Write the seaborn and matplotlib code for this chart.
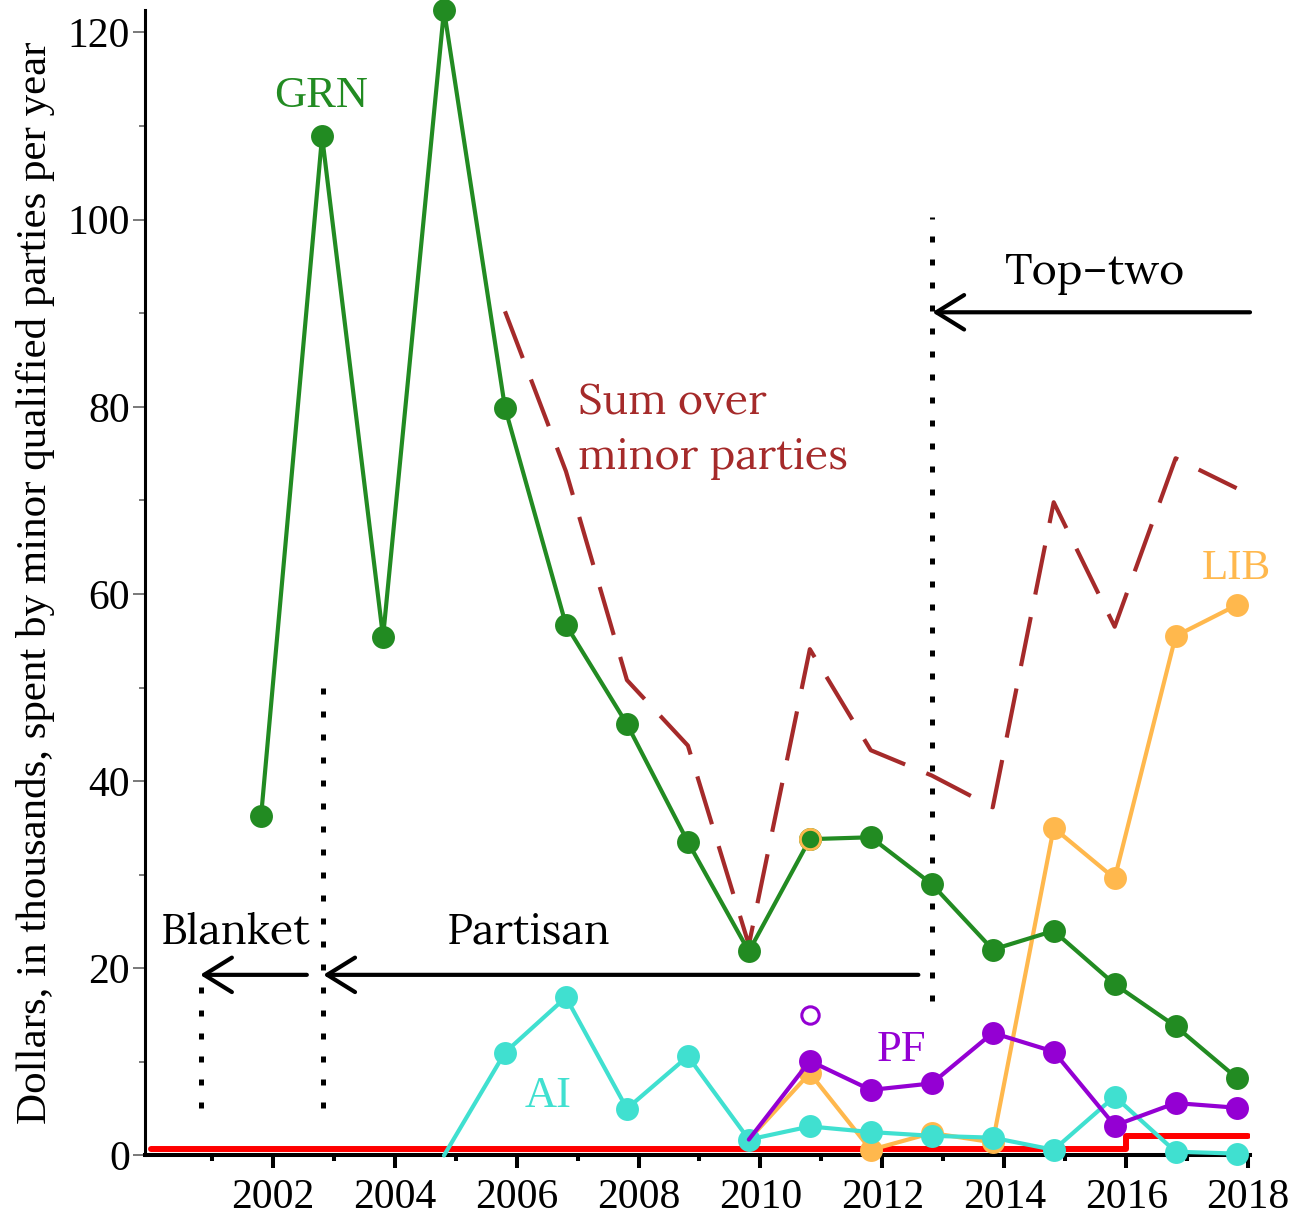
import matplotlib
matplotlib.use("Agg")
import matplotlib.pyplot as plt
import seaborn as sns

# election dates (fractional years) and spending, thousands of dollars
grn_x = [2001.81, 2002.81, 2003.81, 2004.81, 2005.81, 2006.81, 2007.81, 2008.81, 2009.81,
         2010.81, 2011.81, 2012.81, 2013.81, 2014.81, 2015.81, 2016.81, 2017.81]
grn_y = [36.3, 108.9, 55.4, 122.4, 79.9, 56.7, 46.1, 33.5, 21.8,
         33.8, 34.0, 29.0, 22.0, 24.0, 18.3, 13.8, 8.3]

sum_x = [2005.81, 2006.81, 2007.81, 2008.81, 2009.81, 2010.81, 2011.81,
         2012.81, 2013.81, 2014.81, 2015.81, 2016.81, 2017.81]
sum_y = [90.2, 73.1, 50.8, 43.8, 22.5, 54.1, 43.3, 40.6, 37.2, 69.8, 56.5, 74.5, 71.3]

ai_x = [2004.81, 2005.81, 2006.81, 2007.81, 2008.81, 2009.81, 2010.81,
        2011.81, 2012.81, 2013.81, 2014.81, 2015.81, 2016.81, 2017.81]
ai_y = [0.0, 11.0, 16.9, 5.0, 10.6, 1.7, 3.1, 2.5, 2.1, 1.9, 0.6, 6.3, 0.4, 0.2]

lib_x = [2009.81, 2010.81, 2011.81, 2012.81, 2013.81, 2014.81, 2015.81, 2016.81, 2017.81]
lib_y = [1.7, 8.8, 0.6, 2.4, 1.4, 35.0, 29.6, 55.5, 58.8]

pf_x = [2009.81, 2010.81, 2011.81, 2012.81, 2013.81, 2014.81, 2015.81, 2016.81, 2017.81]
pf_y = [1.7, 10.1, 7.0, 7.7, 13.1, 11.1, 3.2, 5.6, 5.1]

# extra markers at 2010
lib_extra_x, lib_extra_y = 2010.81, 33.8
pf_open_x, pf_open_y = 2010.81, 15.0

# red step line
red_x = [2000.0, 2016.0, 2018.0]
red_y = [0.7, 2.1, 2.1]

GREEN = "#228B22"
BROWN = "#A52A2A"
TURQ = "#40E0D0"
ORANGE = "#FFB84D"
PURPLE = "#9400D3"

sns.set_theme(style="ticks")
plt.rcParams["font.family"] = ["Liberation Serif", "DejaVu Serif"]
plt.rcParams["text.color"] = "black"
plt.rcParams["axes.labelcolor"] = "black"
plt.rcParams["xtick.color"] = "black"
plt.rcParams["ytick.color"] = "black"

fig = plt.figure(figsize=(12.99, 12.2), dpi=100)
ax = fig.add_axes([0.1116, 0.0529, 0.8507, 0.9389])

line_kw = dict(linewidth=3, marker="o", markersize=16.5, markeredgewidth=0, ax=ax, clip_on=False)

sns.lineplot(x=red_x, y=red_y, color="red", linewidth=4.3, drawstyle="steps-post", ax=ax, zorder=2)
sns.lineplot(x=sum_x, y=sum_y, color=BROWN, linewidth=3, linestyle=(0, (12, 5.5)), ax=ax, zorder=3)
sns.lineplot(x=lib_x, y=lib_y, color=ORANGE, markevery=list(range(1, len(lib_x))), zorder=4, **line_kw)
sns.lineplot(x=ai_x, y=ai_y, color=TURQ, markevery=list(range(1, len(ai_x))), zorder=5, **line_kw)
sns.lineplot(x=pf_x, y=pf_y, color=PURPLE, markevery=list(range(1, len(pf_x))), zorder=6, **line_kw)
sns.lineplot(x=grn_x, y=grn_y, color=GREEN, zorder=7, **line_kw)

# LIB marker hidden under GRN in 2010
ax.plot([lib_extra_x], [lib_extra_y], "o", color=GREEN, markersize=14.5,
        markeredgecolor=ORANGE, markeredgewidth=2, zorder=8)
ax.plot([pf_open_x], [pf_open_y], "o", markerfacecolor="none", markeredgecolor=PURPLE,
        markersize=12.5, markeredgewidth=2.2, zorder=8)

# primary system boundaries
dot_kw = dict(color="black", linewidth=3.6, linestyle=(0, (1.2, 3.4)), dash_capstyle="butt", zorder=1)
ax.plot([2000.83, 2000.83], [5.1, 18.0], **dot_kw)
ax.plot([2002.83, 2002.83], [5.1, 50.5], **dot_kw)
ax.plot([2012.81, 2012.81], [16.5, 100.3], **dot_kw)

arrow_kw = dict(arrowstyle="->,head_length=1.0,head_width=0.62", lw=3, color="black",
                shrinkA=0, shrinkB=0, mutation_scale=20)
ax.annotate("", xy=(2000.81, 19.3), xytext=(2002.56, 19.3), arrowprops=arrow_kw)
ax.annotate("", xy=(2002.83, 19.3), xytext=(2012.59, 19.3), arrowprops=arrow_kw)
ax.annotate("", xy=(2012.82, 90.1), xytext=(2018.03, 90.1), arrowprops=arrow_kw,
            annotation_clip=False)

serif2 = ["Lora", "DejaVu Serif"]
ax.text(2001.39, 22.6, "Blanket", fontsize=31, family=serif2, ha="center", va="baseline")
ax.text(2006.19, 22.6, "Partisan", fontsize=31, family=serif2, ha="center", va="baseline")
ax.text(2015.49, 93.1, "Top\u2013two", fontsize=31, family=serif2, ha="center", va="baseline")
ax.text(2007.01, 79.2, "Sum over", fontsize=31, family=serif2, color=BROWN, ha="left", va="baseline")
ax.text(2007.01, 73.4, "minor parties", fontsize=31, family=serif2, color=BROWN, ha="left", va="baseline")

ax.text(2002.79, 112.0, "GRN", fontsize=32, color=GREEN, ha="center", va="baseline")
ax.text(2017.81, 61.6, "LIB", fontsize=31, color=ORANGE, ha="center", va="baseline")
ax.text(2012.32, 10.1, "PF", fontsize=32, color=PURPLE, ha="center", va="baseline")
ax.text(2006.52, 5.2, "AI", fontsize=32, color=TURQ, ha="center", va="baseline")

ax.set_xlim(1999.905, 2018.03)
ax.set_ylim(0, 122.4)
ax.set_xticks(range(2002, 2019, 2))
ax.set_xticks(range(2001, 2018, 2), minor=True)
ax.set_yticks(range(0, 121, 20))
ax.set_yticks(range(10, 120, 20), minor=True)

ax.tick_params(axis="x", which="major", direction="out", length=9.5, width=2.9,
               labelsize=30, pad=7, color="black", labelcolor="black")
ax.tick_params(axis="x", which="minor", direction="out", length=4, width=2.9, color="black")
ax.tick_params(axis="y", which="major", direction="out", length=8.6, width=1.1,
               labelsize=30, pad=2, color="#555555", labelcolor="black")
ax.tick_params(axis="y", which="minor", direction="out", length=4.3, width=1.1, color="#555555")

sns.despine(ax=ax)
ax.spines["left"].set_linewidth(2.2)
ax.spines["bottom"].set_linewidth(2.9)
ax.spines["left"].set_color("black")
ax.spines["bottom"].set_color("black")

ax.set_xlabel("")
ax.set_ylabel("Dollars, in thousands, spent by minor qualified parties per year",
              fontsize=31, labelpad=9)

fig.savefig("out.png", dpi=100)
plt.close(fig)
